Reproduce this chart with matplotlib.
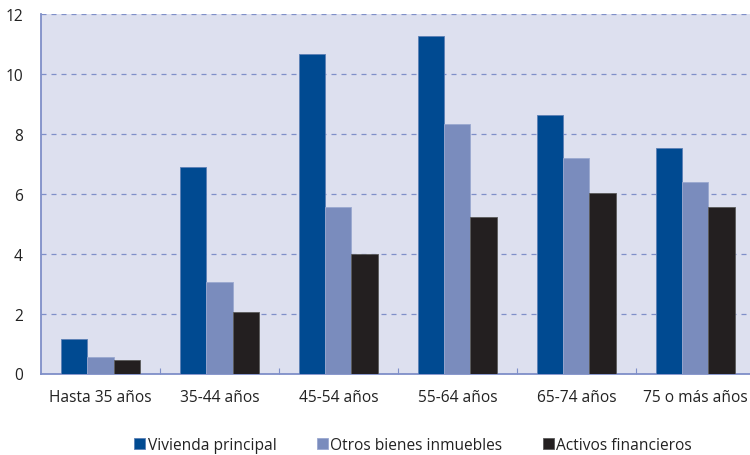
import matplotlib
matplotlib.use("Agg")
import matplotlib.pyplot as plt
import numpy as np

plt.rcParams['font.family'] = ['Open Sans', 'DejaVu Sans']

categories = ["Hasta 35 años", "35-44 años", "45-54 años", "55-64 años", "65-74 años", "75 o más años"]
series_names = ["Vivienda principal", "Otros bienes inmuebles", "Activos financieros"]
vivienda = [1.15, 6.9, 10.66, 11.28, 8.63, 7.52]
otros = [0.55, 3.05, 5.56, 8.34, 7.2, 6.38]
activos = [0.45, 2.05, 4.0, 5.22, 6.03, 5.56]
y_ticks = [0, 2, 4, 6, 8, 10, 12]

colors = ["#004a91", "#7a8cbd", "#231f20"]
edges = ["#5b7fb5", "#9aa8d0", "#5a5a5a"]

fig = plt.figure(figsize=(7.5, 4.56), dpi=100)
ax = fig.add_axes([41 / 750, 1 - 374.5 / 456, 709 / 750, 359.5 / 456])
ax.set_facecolor("#dde0ef")

x = np.arange(len(categories))
w = 0.22
for i, (vals, c, ec, name) in enumerate(zip([vivienda, otros, activos], colors, edges, series_names)):
    ax.bar(x + (i - 1) * w, vals, width=w, color=c, edgecolor=ec, linewidth=0.6, label=name, zorder=3)

ax.set_ylim(0, 12)
ax.set_xlim(-0.5, 5.46)
ax.set_yticks(y_ticks)
ax.set_xticks(x)
ax.set_xticklabels(categories)
ax.set_xticks(np.arange(0.5, 5.5, 1), minor=True)
ax.tick_params(axis='x', which='major', length=0, pad=11, labelsize=11.2, labelcolor="#222222")
ax.tick_params(axis='x', which='minor', direction='in', length=4, color="#7f8fc8", width=0.8)
ax.tick_params(axis='y', length=0, pad=13, labelsize=11.2, labelcolor="#222222")

ax.yaxis.grid(True, linestyle=(0, (4, 4)), color="#7f8fc8", linewidth=0.9, zorder=1)
ax.set_axisbelow(True)
for s in ["top", "right"]:
    ax.spines[s].set_visible(False)
for s in ["left", "bottom"]:
    ax.spines[s].set_color("#7f8fc8")
    ax.spines[s].set_linewidth(1.3)

leg = fig.legend(loc="center", bbox_to_anchor=(413 / 750, 1 - 446 / 456), ncol=3, frameon=False,
                 fontsize=11.2, handlelength=0.7, handleheight=0.7, handletextpad=0.15,
                 columnspacing=2.6)
for t in leg.get_texts():
    t.set_color("#222222")

fig.savefig("out.png", dpi=100)
